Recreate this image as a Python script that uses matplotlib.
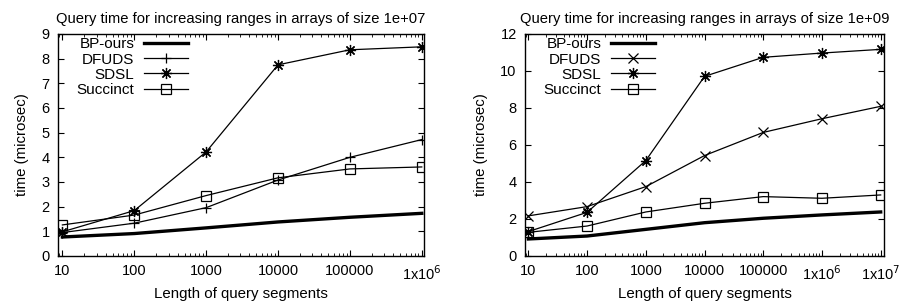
import numpy as np
import matplotlib.pyplot as plt
from matplotlib.ticker import FixedLocator, LogLocator, NullFormatter

plt.rcParams['font.family'] = ['Liberation Sans', 'DejaVu Sans']
plt.rcParams['font.size'] = 10.5

# data for arrays of size 1e7
x_small = [10, 100, 1000, 10000, 100000, 1000000]
bp_small = [0.77, 0.91, 1.14, 1.38, 1.57, 1.73]
dfuds_small = [0.95, 1.33, 1.96, 3.08, 4.0, 4.72]
sdsl_small = [0.98, 1.84, 4.22, 7.75, 8.36, 8.48]
succ_small = [1.26, 1.66, 2.45, 3.17, 3.53, 3.61]
xticks_small = ['10', '100', '1000', '10000', '100000', r'1x10$^{6}$']

# data for arrays of size 1e9
x_big = [10, 100, 1000, 10000, 100000, 1000000, 10000000]
bp_big = [0.92, 1.08, 1.44, 1.8, 2.04, 2.22, 2.38]
dfuds_big = [2.17, 2.67, 3.75, 5.43, 6.68, 7.42, 8.09]
sdsl_big = [1.32, 2.36, 5.16, 9.71, 10.74, 10.97, 11.17]
succ_big = [1.28, 1.62, 2.38, 2.85, 3.21, 3.12, 3.30]
xticks_big = ['10', '100', '1000', '10000', '100000', r'1x10$^{6}$', r'1x10$^{7}$']

fig = plt.figure(figsize=(9.04, 3.06), dpi=100)
ax1 = fig.add_axes([0.0642, 0.1634, 0.4047, 0.7255])
ax2 = fig.add_axes([0.5808, 0.1634, 0.3971, 0.7255])


def draw(ax, x, bp, dfuds, sdsl, succ, dfuds_marker, ticklabels, size, xlim, ylim, yticks, legx):
    ax.plot(x, bp, color='black', lw=2.4, label='BP-ours')
    ax.plot(x, dfuds, color='black', lw=0.9, marker=dfuds_marker, ms=7, mew=0.9, label='DFUDS')
    ax.plot(x, sdsl, color='black', lw=0.9, marker=(8, 2, 0), ms=8, mew=0.9, label='SDSL')
    ax.plot(x, succ, color='black', lw=0.9, marker='s', ms=6.5, mew=0.9, mfc='none', label='Succinct')
    ax.set_xscale('log')
    ax.set_xlim(*xlim)
    ax.set_ylim(*ylim)
    ax.xaxis.set_major_locator(FixedLocator(x))
    ax.set_xticklabels(ticklabels)
    ax.xaxis.set_minor_locator(LogLocator(base=10, subs=np.arange(2, 10)))
    ax.xaxis.set_minor_formatter(NullFormatter())
    ax.set_yticks(yticks)
    ax.tick_params(which='both', direction='in', top=True, right=True)
    ax.tick_params(which='major', length=4, width=0.8, pad=6)
    ax.tick_params(which='minor', length=2.5, width=0.6)
    for s in ax.spines.values():
        s.set_linewidth(1.0)
    ax.set_xlabel('Length of query segments', fontsize=10.8, labelpad=3)
    ax.set_ylabel('time (microsec)', fontsize=10.8, labelpad=9)
    ax.set_title('Query time for increasing ranges in arrays of size ' + size, fontsize=10.6, pad=8)
    ax.legend(loc='upper right', bbox_to_anchor=(legx, 0.985), frameon=False, markerfirst=False,
              borderpad=0, borderaxespad=0, labelspacing=0.08, handlelength=2.9,
              handletextpad=0.6, fontsize=11)


draw(ax1, x_small, bp_small, dfuds_small, sdsl_small, succ_small, '+', xticks_small,
     '1e+07', (8.7, 1.07e6), (0, 9), range(0, 10), 0.355)
draw(ax2, x_big, bp_big, dfuds_big, sdsl_big, succ_big, 'x', xticks_big,
     '1e+09', (8.77, 1.14e7), (0, 12), range(0, 13, 2), 0.362)

fig.savefig('out.png', dpi=100)
